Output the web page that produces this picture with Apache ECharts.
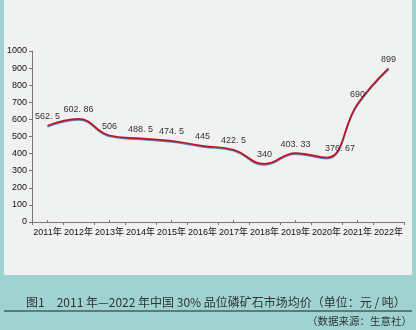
<!DOCTYPE html>
<html><head><meta charset="utf-8">
<script src="https://cdn.jsdelivr.net/npm/echarts@6/dist/echarts.min.js"></script>
<style>html,body{margin:0;padding:0;background:#9ed3d2;}#c{width:416px;height:330px;}</style>
</head><body><div id="c"></div>
<script>
const categories = ['2011年','2012年','2013年','2014年','2015年','2016年','2017年','2018年','2019年','2020年','2021年','2022年'];
const prices = [562.5, 602.86, 506, 488.5, 474.5, 445, 422.5, 340, 403.33, 376.67, 690, 899];
const labelTexts = ['562. 5','602. 86','506','488. 5','474. 5','445','422. 5','340','403. 33','376. 67','690','899'];
const yTicks = [0,100,200,300,400,500,600,700,800,900,1000];
const captionText = '图1　2011 年—2022 年中国 30% 品位磷矿石市场均价（单位：元 / 吨）';
const sourceText = '（数据来源：生意社）';

const chart = echarts.init(document.getElementById('c'), null, {renderer:'canvas'});
const cjk = '"Liberation Sans","Noto Sans CJK SC",sans-serif';
chart.setOption({
  backgroundColor: '#9ed3d2',
  animation: false,
  graphic: [
    {type:'rect', shape:{x:4,y:0,width:408,height:275}, style:{fill:'#f0f1f1'}, z:-10},
    {type:'text', left:26, top:296, style:{text:captionText, font:'12px "Noto Sans CJK SC",sans-serif', fill:'#333'}},
    {type:'line', shape:{x1:4,y1:311,x2:412,y2:311}, style:{stroke:'#222', lineWidth:1.2}},
    {type:'text', right:4, top:316, style:{text:sourceText, font:'10.5px "Noto Sans CJK SC",sans-serif', fill:'#333'}}
  ],
  grid: {left:32, right:12, top:51, bottom:108},
  xAxis: [
    {type:'category', data:categories, boundaryGap:true,
     axisLine:{lineStyle:{color:'#777', width:1}},
     axisTick:{show:true, length:3, lineStyle:{color:'#777'}},
     axisLabel:{color:'#111', fontSize:9, fontFamily:cjk, margin:6, interval:0}},
    {type:'category', data:categories, boundaryGap:true, position:'bottom',
     axisLine:{show:false},
     axisTick:{show:true, alignWithLabel:true, inside:true, length:2, lineStyle:{color:'#777'}},
     axisLabel:{show:false}}
  ],
  yAxis: {type:'value', min:0, max:1000, interval:100,
    axisLine:{show:true, lineStyle:{color:'#777'}},
    axisTick:{show:true, length:3, lineStyle:{color:'#777'}},
    splitLine:{show:false},
    axisLabel:{color:'#111', fontSize:9, fontFamily:'"Liberation Sans",sans-serif', margin:5,
      formatter: v => String(v)}},
  series: [{
    type:'line',
    data: prices.map((v,i)=> i===9 ? {value:v, label:{position:[-1,-13]}} : v),
    smooth:0.45, symbol:'circle', symbolSize:1, showSymbol:true,
    itemStyle:{color:'rgba(0,0,0,0)', borderWidth:0},
    lineStyle:{color:'#c0141c', width:1.7, shadowColor:'#5b86c6', shadowBlur:0, shadowOffsetY:1},
    label:{show:true, position:'top', distance:4, color:'#333', fontSize:9,
      fontFamily:'"Liberation Sans",sans-serif',
      formatter: p => labelTexts[p.dataIndex]},
    labelLayout:{hideOverlap:false}
  }]
});
</script></body></html>
